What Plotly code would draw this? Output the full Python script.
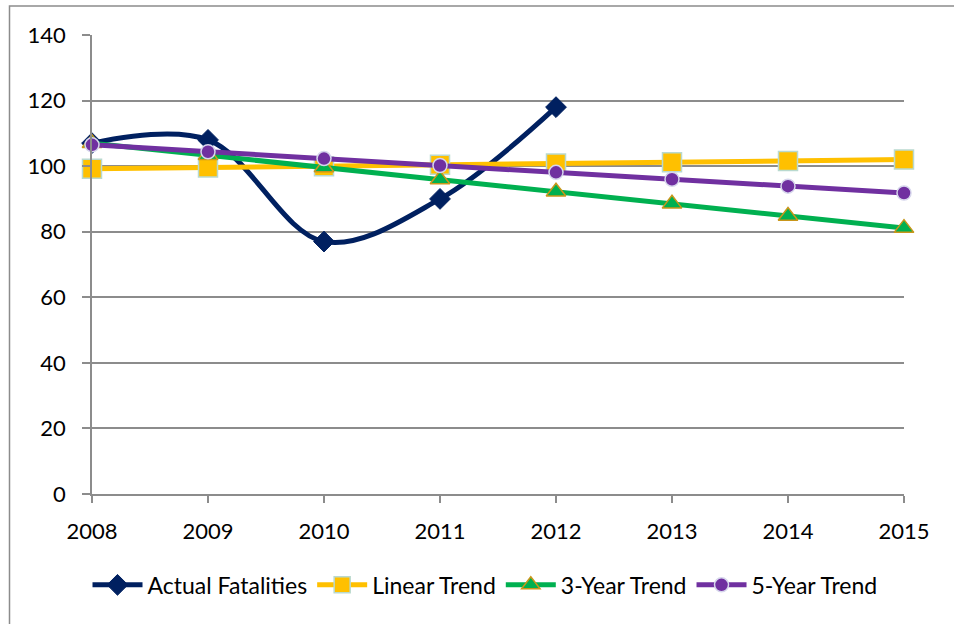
import plotly.graph_objects as go

years = [2008, 2009, 2010, 2011, 2012, 2013, 2014, 2015]
actual_years = [2008, 2009, 2010, 2011, 2012]
actual = [107, 108, 77, 90, 118]
linear = [99.2, 99.6, 100.0, 100.4, 100.8, 101.2, 101.6, 102.0]
three_year = [107.0, 103.3, 99.6, 95.9, 92.2, 88.5, 84.8, 81.1]
five_year = [106.5, 104.4, 102.3, 100.2, 98.1, 96.0, 93.9, 91.8]

FONT = "Lato"

fig = go.Figure()
fig.add_trace(go.Scatter(
    x=actual_years, y=actual, name="Actual Fatalities", mode="lines+markers",
    line=dict(color="#002060", width=5, shape="spline", smoothing=1),
    marker=dict(symbol="diamond", size=16, color="#002060",
                line=dict(color="#002060", width=1)),
    cliponaxis=False))
fig.add_trace(go.Scatter(
    x=years, y=linear, name="Linear Trend", mode="lines+markers",
    line=dict(color="#FFC000", width=5),
    marker=dict(symbol="square", size=19, color="#FFC000",
                line=dict(color="#B9D9CF", width=1.5)),
    cliponaxis=False))
fig.add_trace(go.Scatter(
    x=years, y=three_year, name="3-Year Trend", mode="lines+markers",
    line=dict(color="#00B050", width=5),
    marker=dict(symbol="triangle-up", size=17, color="#00B050",
                line=dict(color="#C9961A", width=1.5)),
    cliponaxis=False))
fig.add_trace(go.Scatter(
    x=years, y=five_year, name="5-Year Trend", mode="lines+markers",
    line=dict(color="#7030A0", width=5),
    marker=dict(symbol="circle", size=14, color="#7030A0",
                line=dict(color="#D6D6EC", width=1.5)),
    cliponaxis=False))

fig.update_layout(
    width=954, height=624,
    margin=dict(l=92, r=50, t=35, b=130),
    paper_bgcolor="white", plot_bgcolor="white",
    font=dict(family=FONT, size=22, color="black"),
    showlegend=True,
    legend=dict(orientation="h", x=0.484, xanchor="center", y=-0.198,
                yanchor="middle", font=dict(size=23), itemwidth=50,
                tracegroupgap=0),
    xaxis=dict(range=[2008, 2015], tickvals=years, showgrid=False,
               showline=True, linecolor="#8C8C8C", linewidth=1.5,
               ticks="outside", ticklen=7, tickcolor="#8C8C8C", tickwidth=1.5,
               ticklabelstandoff=10, zeroline=False,
               tickfont=dict(size=22, family=FONT)),
    yaxis=dict(range=[0, 140], dtick=20, showgrid=True, gridcolor="#8C8C8C",
               gridwidth=1.5, showline=True, linecolor="#8C8C8C", linewidth=1.5,
               ticks="outside", ticklen=8, tickcolor="#8C8C8C", tickwidth=1.5,
               ticklabelstandoff=12, zeroline=False,
               tickfont=dict(size=22, family=FONT)),
)

fig.add_shape(type="rect", xref="paper", yref="paper",
              x0=(9.5 - 92) / 812, x1=1.2, y0=-0.5, y1=(494 - 6) / 459,
              line=dict(color="#8C8C8C", width=1.5), layer="below")

fig.write_html("out.html")
